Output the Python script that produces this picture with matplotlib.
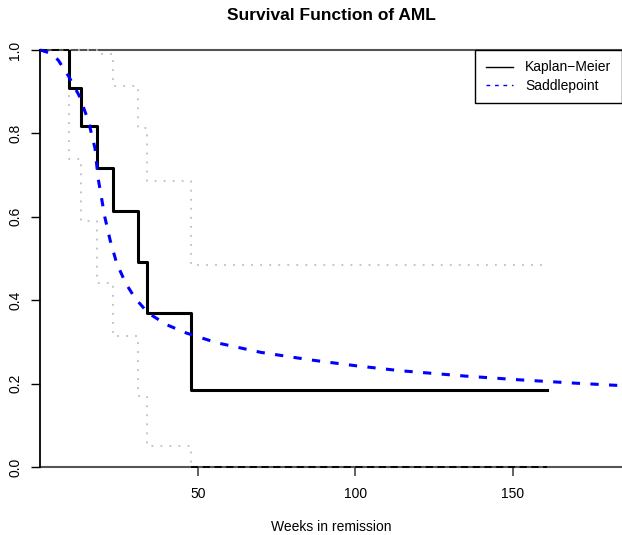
import matplotlib
matplotlib.use('Agg')
import matplotlib.pyplot as plt

plt.rcParams['font.family'] = ['Liberation Sans', 'DejaVu Sans']

# Kaplan-Meier estimate (event times and survival after each event)
km_time = [9, 13, 18, 23, 31, 34, 48]
km_surv = [0.9091, 0.8182, 0.7159, 0.6136, 0.4909, 0.3682, 0.1841]
last_time = 161

# pointwise confidence band
ci_upper = [1.0, 1.0, 0.9897, 0.9128, 0.8127, 0.6870, 0.4849]
ci_lower = [0.7392, 0.5903, 0.4422, 0.3145, 0.1691, 0.0493, 0.0]

# saddlepoint approximation
sp_time = [0, 3, 5.7, 9.1, 12.4, 15.3, 17.4, 18.4, 20.5, 22.2, 24.3, 27.2, 30.1,
           34.3, 40.2, 46.5, 56.0, 70, 85.6, 100, 114.2, 135, 152.3, 170, 185]
sp_surv = [1.0, 0.993, 0.976, 0.936, 0.890, 0.830, 0.764, 0.692, 0.600, 0.544,
           0.488, 0.440, 0.405, 0.369, 0.341, 0.321, 0.298, 0.275, 0.257, 0.243,
           0.231, 0.218, 0.209, 0.201, 0.195]

y_ticks = [0.0, 0.2, 0.4, 0.6, 0.8, 1.0]
x_ticks = [50, 100, 150]

W, H = 622, 535
fig = plt.figure(figsize=(W / 100, H / 100), dpi=100)
ax = fig.add_axes([40.2 / W, (H - 467) / H, (W - 40.2) / W, 417 / H])
ax.set_xlim(0, 184.7)
ax.set_ylim(0, 1)

for s in ['top', 'right', 'bottom']:
    ax.spines[s].set_visible(False)
ax.spines['left'].set_linewidth(1.3)
ax.spines['left'].set_color('black')

# reference lines at 0 and 1
ax.axhline(0, color='#555555', lw=1.5, clip_on=False, zorder=1)
ax.axhline(1, color='#555555', lw=1.5, clip_on=False, zorder=1)

# confidence band
up_x = [km_time[0]] + km_time + [last_time]
up_y = [1.0] + ci_upper + [ci_upper[-1]]
ax.plot(up_x, up_y, drawstyle='steps-post', color='#bebebe', lw=1.3,
        linestyle=(0, (1, 4)), clip_on=False, zorder=2)
lo_x = [km_time[0]] + km_time
lo_y = [1.0] + ci_lower
ax.plot(lo_x, lo_y, drawstyle='steps-post', color='#bebebe', lw=1.3,
        linestyle=(0, (1, 4)), clip_on=False, zorder=2)

# dashed pieces where the band sits on 0 / 1
ax.plot([0, km_time[0]], [1, 1], color='black', lw=1.3, linestyle=(0, (4, 2.5)),
        clip_on=False, zorder=3)
ax.plot([km_time[-1], last_time], [0, 0], color='black', lw=1.3,
        linestyle=(0, (4, 2.5)), clip_on=False, zorder=3)

# Kaplan-Meier step curve
km_x = [km_time[0]] + km_time + [last_time]
km_y = [1.0] + km_surv + [km_surv[-1]]
km_line, = ax.plot(km_x, km_y, drawstyle='steps-post', color='black', lw=2.2,
                   zorder=4)

# saddlepoint
sp_line, = ax.plot(sp_time, sp_surv, color='blue', lw=2.2, linestyle=(0, (2.7, 3.4)),
                   clip_on=False, zorder=5)

ax.set_yticks(y_ticks)
ax.set_yticklabels(['{:.1f}'.format(v) for v in y_ticks], rotation=90, va='center')
ax.set_xticks(x_ticks)
ax.set_xticklabels([str(v) for v in x_ticks])
ax.tick_params(axis='y', length=6.5, width=1, pad=6.5, labelsize=10)
ax.tick_params(axis='x', length=6.5, width=1.3, color='#555555', pad=8, labelsize=10)

fig.text(331 / W, 1 - 527 / H, 'Weeks in remission', fontsize=10,
         ha='center', va='center')
fig.text(331 / W, 1 - 15 / H, 'Survival Function of AML', fontsize=12.5,
         fontweight='bold', ha='center', va='center')

leg = ax.legend([km_line, sp_line], ['Kaplan\u2212Meier', 'Saddlepoint'],
                loc='upper right', bbox_to_anchor=(1.0, 1.0), borderaxespad=0,
                fontsize=10, frameon=True, fancybox=False, framealpha=1,
                edgecolor='black', handlelength=1.95, handletextpad=0.9,
                borderpad=0.75, labelspacing=0.3)
leg.get_frame().set_linewidth(1.0)
for h in leg.get_lines():
    h.set_linewidth(1.0)

fig.savefig('out.png', dpi=100)
